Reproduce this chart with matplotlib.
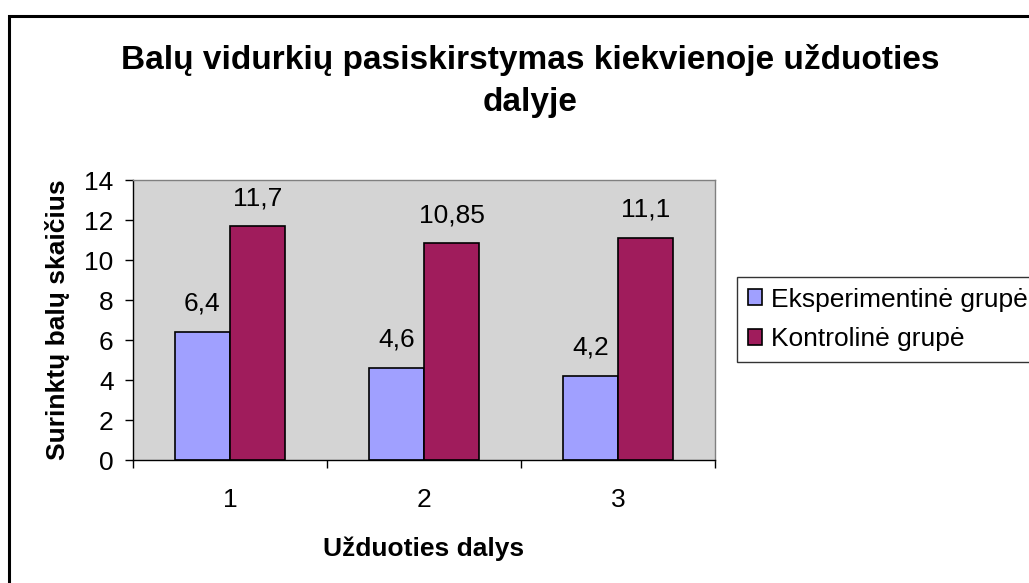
import matplotlib.pyplot as plt
import numpy as np
from matplotlib.patches import Rectangle

categories = ["1", "2", "3"]
eksperimentine = [6.4, 4.6, 4.2]
kontroline = [11.7, 10.85, 11.1]
labels_eksp = ["6,4", "4,6", "4,2"]
labels_kontr = ["11,7", "10,85", "11,1"]
series_names = ["Eksperimentinė grupė", "Kontrolinė grupė"]

plt.rcParams["font.family"] = ["Liberation Sans", "DejaVu Sans"]

fig = plt.figure(figsize=(10.29, 5.83), dpi=100)
W, H = 1029, 583
FS = 19

# chart area border (runs off the right and bottom edge)
fig.patches.append(Rectangle((9 / W, 0 - 0.05), 1.1, 1 - 16 / H + 0.05,
                             transform=fig.transFigure, fill=False,
                             edgecolor="black", linewidth=2.2))

ax = fig.add_axes([133 / W, 1 - 460 / H, (715 - 133) / W, (460 - 180) / H])
ax.set_facecolor("#D4D4D4")

x = np.arange(len(categories))
w = 0.285
b1 = ax.bar(x - w / 2, eksperimentine, w, color="#A0A0FF", edgecolor="black",
            linewidth=1.2, label=series_names[0])
b2 = ax.bar(x + w / 2, kontroline, w, color="#A01C5C", edgecolor="black",
            linewidth=1.2, label=series_names[1])

for bars, labs in ((b1, labels_eksp), (b2, labels_kontr)):
    for rect, lab in zip(bars, labs):
        ax.text(rect.get_x() + rect.get_width() / 2, rect.get_height() + 0.8, lab,
                ha="center", va="bottom", fontsize=FS)

ax.set_xlim(-0.5, 2.5)
ax.set_ylim(0, 14)
ax.set_yticks(range(0, 15, 2))
ax.set_xticks(x)
ax.set_xticklabels(categories, fontsize=FS)
ax.set_xticks([-0.5, 0.5, 1.5, 2.5], minor=True)
ax.tick_params(axis="x", which="major", length=0, pad=20)
ax.tick_params(axis="x", which="minor", length=6, width=1, direction="out")
ax.tick_params(axis="y", labelsize=FS, length=6, width=1, direction="out", pad=8)

for side in ["left", "bottom"]:
    ax.spines[side].set_color("black")
    ax.spines[side].set_linewidth(1)
for side in ["top", "right"]:
    ax.spines[side].set_color("#808080")
    ax.spines[side].set_linewidth(1)

ax.set_ylabel("Surinktų balų skaičius", fontsize=FS, fontweight="bold", labelpad=10)
ax.set_xlabel("Užduoties dalys", fontsize=FS, fontweight="bold", labelpad=18)

fig.text(530 / W, 1 - 81 / H,
         "Balų vidurkių pasiskirstymas kiekvienoje užduoties\ndalyje",
         ha="center", va="center", fontsize=24, fontweight="bold", linespacing=1.5)

leg = fig.legend(loc="upper left", bbox_to_anchor=(737 / W, 1 - 277 / H),
                 fontsize=FS, frameon=True, fancybox=False, edgecolor="black",
                 handlelength=0.55, handleheight=0.55, handletextpad=0.35,
                 borderpad=0.4, labelspacing=0.6, borderaxespad=0)
leg.get_frame().set_linewidth(1)

fig.savefig("out.png", dpi=100)
